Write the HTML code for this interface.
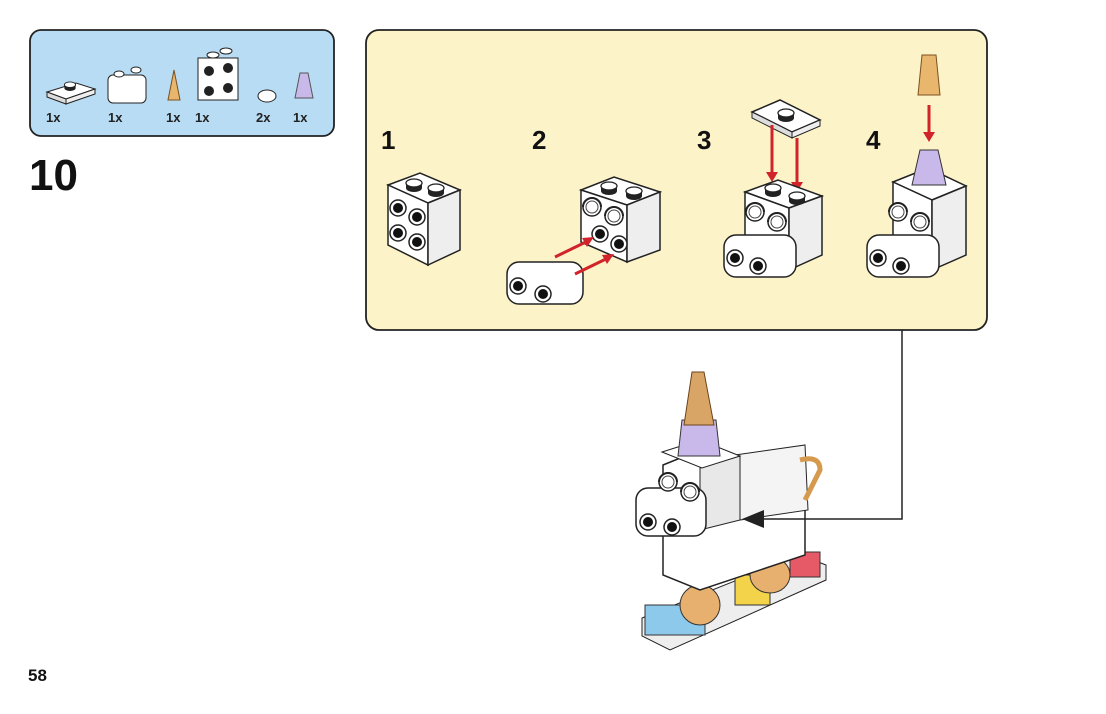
<!DOCTYPE html>
<html><head><meta charset="utf-8"><style>
body{margin:0;width:1106px;height:709px;background:#fff;overflow:hidden;font-family:"Liberation Sans",Arial,sans-serif}
</style></head><body>
<svg width="1106" height="709" viewBox="0 0 1106 709" xmlns="http://www.w3.org/2000/svg" font-family="Liberation Sans, Arial, sans-serif">
<defs>
<g id="stud"><ellipse cx="0" cy="3" rx="8" ry="4" fill="#222"/><rect x="-8" y="-2" width="16" height="5" fill="#222"/><ellipse cx="0" cy="-2" rx="8" ry="4" fill="#fff" stroke="#222" stroke-width="1.3"/></g>
<g id="hole"><circle r="8" fill="#fff" stroke="#222" stroke-width="1.5"/><circle r="5" fill="#111"/></g>
<g id="eye"><circle r="9" fill="#fff" stroke="#222" stroke-width="1.5"/><circle r="6" fill="none" stroke="#444" stroke-width="1"/><path d="M-9,0 A9,9 0 0 1 9,0" fill="none" stroke="#222" stroke-width="2"/></g>
</defs>
<rect x="30" y="30" width="304" height="106" rx="11" fill="#b8dcf4" stroke="#222" stroke-width="1.8"/>
<g font-weight="bold" font-size="13" fill="#222">
<text x="46" y="122">1x</text><text x="108" y="122">1x</text><text x="166" y="122">1x</text><text x="195" y="122">1x</text><text x="256" y="122">2x</text><text x="293" y="122">1x</text></g>
<polygon points="47,92 76,83 95,89 66,99" fill="#fff" stroke="#222"/><polygon points="47,92 66,99 66,104 47,97" fill="#ddd" stroke="#222"/><polygon points="66,99 95,89 95,94 66,104" fill="#eee" stroke="#222"/>
<use href="#stud" x="70" y="86" transform="scale(0.7) translate(30,37)"/>
<rect x="108" y="75" width="38" height="28" rx="5" fill="#fff" stroke="#222"/><ellipse cx="119" cy="74" rx="5" ry="3" fill="#fff" stroke="#222"/><ellipse cx="136" cy="70" rx="5" ry="3" fill="#fff" stroke="#222"/>
<polygon points="174,70 168,100 180,100" fill="#e9b66d" stroke="#7a5020"/>
<rect x="198" y="58" width="40" height="42" fill="#fff" stroke="#222"/><circle cx="209" cy="71" r="5" fill="#222"/><circle cx="228" cy="68" r="5" fill="#222"/><circle cx="209" cy="91" r="5" fill="#222"/><circle cx="228" cy="88" r="5" fill="#222"/>
<ellipse cx="213" cy="55" rx="6" ry="3" fill="#fff" stroke="#222"/><ellipse cx="226" cy="51" rx="6" ry="3" fill="#fff" stroke="#222"/>
<ellipse cx="267" cy="96" rx="9" ry="6" fill="#fff" stroke="#222"/>
<polygon points="300,73 308,73 313,98 295,98" fill="#c9b9ea" stroke="#555"/>
<text x="29" y="190" font-size="44" font-weight="bold" fill="#111">10</text>
<text x="28" y="681" font-size="17" font-weight="bold" fill="#111">58</text>
<rect x="366" y="30" width="621" height="300" rx="13" fill="#fdf3c9" stroke="#222" stroke-width="1.8"/>
<g font-size="26" font-weight="bold" fill="#111"><text x="381" y="149">1</text><text x="532" y="149">2</text><text x="697" y="149">3</text><text x="866" y="149">4</text></g>
<polygon points="388,185 420,173 460,190 428,203" fill="#fff" stroke="#222" stroke-width="1.5"/>
<polygon points="388,185 428,203 428,265 388,245" fill="#fff" stroke="#222" stroke-width="1.5"/>
<polygon points="428,203 460,190 460,250 428,265" fill="#eee" stroke="#222" stroke-width="1.5"/>
<use href="#stud" x="414" y="185"/><use href="#stud" x="436" y="190"/>
<use href="#hole" x="398" y="208"/><use href="#hole" x="417" y="217"/><use href="#hole" x="398" y="233"/><use href="#hole" x="417" y="242"/>
<polygon points="581,190 614,177 660,192 627,205" fill="#fff" stroke="#222" stroke-width="1.5"/>
<polygon points="581,190 627,205 627,262 581,242" fill="#fff" stroke="#222" stroke-width="1.5"/>
<polygon points="627,205 660,192 660,250 627,262" fill="#eee" stroke="#222" stroke-width="1.5"/>
<use href="#stud" x="609" y="188"/><use href="#stud" x="634" y="193"/>
<use href="#eye" x="592" y="207"/><use href="#eye" x="614" y="216"/><use href="#hole" x="600" y="234"/><use href="#hole" x="619" y="244"/>
<rect x="507" y="262" width="76" height="42" rx="12" fill="#fff" stroke="#222" stroke-width="1.5"/>
<use href="#hole" x="518" y="286"/><use href="#hole" x="543" y="294"/>
<line x1="555" y1="257" x2="590" y2="240" stroke="#d0242a" stroke-width="3"/><polygon points="594,237 582,238 587,247" fill="#d0242a"/>
<line x1="575" y1="274" x2="610" y2="257" stroke="#d0242a" stroke-width="3"/><polygon points="614,254 602,255 607,264" fill="#d0242a"/>
<polygon points="752,112 780,100 820,120 792,132" fill="#fff" stroke="#222" stroke-width="1.5"/><polygon points="752,112 792,132 792,138 752,118" fill="#ddd" stroke="#222"/><polygon points="792,132 820,120 820,126 792,138" fill="#eee" stroke="#222"/>
<use href="#stud" x="786" y="115"/>
<line x1="772" y1="125" x2="772" y2="175" stroke="#d0242a" stroke-width="3"/><polygon points="766,172 778,172 772,182" fill="#d0242a"/>
<line x1="797" y1="138" x2="797" y2="185" stroke="#d0242a" stroke-width="3"/><polygon points="791,182 803,182 797,192" fill="#d0242a"/>
<polygon points="745,192 778,180 822,196 789,208" fill="#fff" stroke="#222" stroke-width="1.5"/>
<polygon points="745,192 789,208 789,270 745,250" fill="#fff" stroke="#222" stroke-width="1.5"/>
<polygon points="789,208 822,196 822,255 789,270" fill="#eee" stroke="#222" stroke-width="1.5"/>
<use href="#stud" x="773" y="190"/><use href="#stud" x="797" y="198"/>
<use href="#eye" x="755" y="212"/><use href="#eye" x="777" y="222"/>
<rect x="724" y="235" width="72" height="42" rx="12" fill="#fff" stroke="#222" stroke-width="1.5"/><use href="#hole" x="735" y="258"/><use href="#hole" x="758" y="266"/>
<polygon points="922,55 936,55 940,95 918,95" fill="#e9b66d" stroke="#7a5020"/>
<line x1="929" y1="105" x2="929" y2="135" stroke="#d0242a" stroke-width="3"/><polygon points="923,132 935,132 929,142" fill="#d0242a"/>
<polygon points="893,182 928,168 966,186 932,200" fill="#fff" stroke="#222" stroke-width="1.5"/>
<polygon points="893,182 932,200 932,270 893,250" fill="#fff" stroke="#222" stroke-width="1.5"/>
<polygon points="932,200 966,186 966,255 932,270" fill="#eee" stroke="#222" stroke-width="1.5"/>
<polygon points="920,150 938,150 946,185 912,185" fill="#c9b9ea" stroke="#333"/>
<use href="#eye" x="898" y="212"/><use href="#eye" x="920" y="222"/>
<rect x="867" y="235" width="72" height="42" rx="12" fill="#fff" stroke="#222" stroke-width="1.5"/><use href="#hole" x="878" y="258"/><use href="#hole" x="901" y="266"/>
<!-- unicorn -->
<polygon points="642,618 800,555 826,565 826,580 670,650 642,636" fill="#eee" stroke="#222"/>
<rect x="645" y="605" width="60" height="30" fill="#8cc9ea" stroke="#333"/>
<rect x="735" y="575" width="35" height="30" fill="#f3d34a" stroke="#333"/>
<rect x="790" y="552" width="30" height="25" fill="#e55a66" stroke="#333"/>
<ellipse cx="700" cy="605" rx="20" ry="20" fill="#e7b06f" stroke="#333"/>
<ellipse cx="770" cy="575" rx="20" ry="18" fill="#e7b06f" stroke="#333"/>
<polygon points="663,465 700,450 805,470 805,555 700,590 663,575" fill="#fff" stroke="#222" stroke-width="1.5"/>
<polygon points="735,455 805,445 808,510 740,520" fill="#f4f4f4" stroke="#222"/>
<path d="M800,460 q20,-5 20,10 q-10,20 -15,30" fill="none" stroke="#d59a4e" stroke-width="5"/>
<polygon points="700,468 740,456 740,520 700,530" fill="#e8e8e8" stroke="#222"/>
<rect x="636" y="488" width="70" height="48" rx="12" fill="#fff" stroke="#222" stroke-width="1.5"/>
<use href="#hole" x="648" y="522"/><use href="#hole" x="672" y="527"/>
<use href="#eye" x="668" y="482"/><use href="#eye" x="690" y="492"/>
<polygon points="662,452 700,440 740,456 702,468" fill="#fff" stroke="#222"/>
<polygon points="682,420 716,420 720,456 678,456" fill="#c9b9ea" stroke="#333"/>
<polygon points="692,372 704,372 714,425 684,425" fill="#d9a567" stroke="#6b4418"/>
<!-- connector -->
<polyline points="902,330 902,519 760,519" fill="none" stroke="#222" stroke-width="1.5"/><polygon points="742,519 764,510 764,528" fill="#222"/>
</svg>
</body></html>
